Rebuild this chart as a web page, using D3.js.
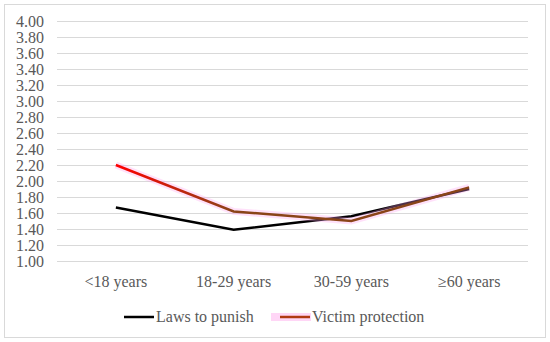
<!DOCTYPE html>
<html>
<head>
<meta charset="utf-8">
<script src="https://cdn.jsdelivr.net/npm/d3@7"></script>
<style>
  body { margin: 0; background: #fff; }
  svg text { font-family: "Liberation Serif", "Times New Roman", serif; fill: #595959; }
</style>
</head>
<body>
<div id="chart"></div>
<script>
  'use strict';

  var categories = ['<18 years', '18-29 years', '30-59 years', '\u226560 years'];
  var lawsToPunish = [1.67, 1.39, 1.56, 1.90];
  var victimProtection = [2.20, 1.62, 1.50, 1.92];
  var yTicks = [1.0, 1.2, 1.4, 1.6, 1.8, 2.0, 2.2, 2.4, 2.6, 2.8, 3.0, 3.2, 3.4, 3.6, 3.8, 4.0];

  var W = 550, H = 342,
      plot = { left: 57, right: 528, top: 21, bottom: 261 },
      FONT = '"Liberation Serif", "Times New Roman", serif';

  var svg = d3.select('#chart').append('svg')
    .attr('width', W)
    .attr('height', H);

  // outer frame
  svg.append('rect')
    .attr('x', 4.5).attr('y', 4.5)
    .attr('width', 541).attr('height', 333)
    .attr('fill', '#fff')
    .attr('stroke', '#d9d9d9');

  var x = d3.scaleBand()
    .domain(categories)
    .range([plot.left, plot.right]);

  var y = d3.scaleLinear()
    .domain([1, 4])
    .range([plot.bottom, plot.top]);

  // gridlines + y labels
  var yAxis = d3.axisLeft(y)
    .tickValues(yTicks)
    .tickFormat(d3.format('.2f'))
    .tickSize(-(plot.right - plot.left))
    .tickPadding(13);

  svg.append('g')
    .attr('transform', 'translate(' + plot.left + ',0)')
    .call(yAxis)
    .attr('font-family', FONT)
    .call(function (g) {
      g.select('.domain').remove();
      g.selectAll('.tick line').attr('stroke', '#d9d9d9');
      g.selectAll('.tick text').style('font-size', '16px');
    });

  // x labels
  var xAxis = d3.axisBottom(x).tickSize(0).tickPadding(15);
  svg.append('g')
    .attr('transform', 'translate(0,' + plot.bottom + ')')
    .call(xAxis)
    .attr('font-family', FONT)
    .call(function (g) {
      g.select('.domain').remove();
      g.selectAll('.tick text').style('font-size', '16px');
    });

  // gradient for victim protection line
  var grad = svg.append('defs').append('linearGradient')
    .attr('id', 'vpGrad')
    .attr('gradientUnits', 'userSpaceOnUse')
    .attr('x1', x(categories[0]) + x.bandwidth() / 2)
    .attr('x2', x(categories[1]) + x.bandwidth() / 2)
    .attr('y1', 0).attr('y2', 0);
  grad.append('stop').attr('offset', '0%').attr('stop-color', '#ff0000');
  grad.append('stop').attr('offset', '100%').attr('stop-color', '#8a4418');

  var line = d3.line()
    .x(function (d, i) { return x(categories[i]) + x.bandwidth() / 2; })
    .y(function (d) { return y(d); });

  svg.append('path')
    .datum(lawsToPunish)
    .attr('d', line)
    .attr('fill', 'none')
    .attr('stroke', '#000')
    .attr('stroke-width', 2.5);

  // faint pink glow
  svg.append('path')
    .datum(victimProtection)
    .attr('d', line)
    .attr('fill', 'none')
    .attr('stroke', '#ff9cf0')
    .attr('stroke-opacity', 0.3)
    .attr('stroke-width', 7);

  svg.append('path')
    .datum(victimProtection)
    .attr('d', line)
    .attr('fill', 'none')
    .attr('stroke', 'url(#vpGrad)')
    .attr('stroke-width', 2.5);

  // legend
  var legend = [
    { name: 'Laws to punish', color: '#000', x: 124, glow: false },
    { name: 'Victim protection', color: '#b03a12', x: 280, glow: true }
  ];
  var lg = svg.selectAll('.legend').data(legend).enter().append('g')
    .attr('class', 'legend')
    .attr('transform', function (d) { return 'translate(' + d.x + ',317)'; });
  lg.filter(function (d) { return d.glow; }).append('rect')
    .attr('x', -9).attr('y', -4)
    .attr('width', 40).attr('height', 8)
    .attr('fill', '#ffd6f6');
  lg.append('line')
    .attr('x1', 0).attr('x2', 30)
    .attr('stroke', function (d) { return d.color; })
    .attr('stroke-width', 2.5);
  lg.append('text')
    .attr('x', 32).attr('dy', '0.32em')
    .attr('font-family', FONT)
    .style('font-size', '16px')
    .text(function (d) { return d.name; });
</script>
</body>
</html>
